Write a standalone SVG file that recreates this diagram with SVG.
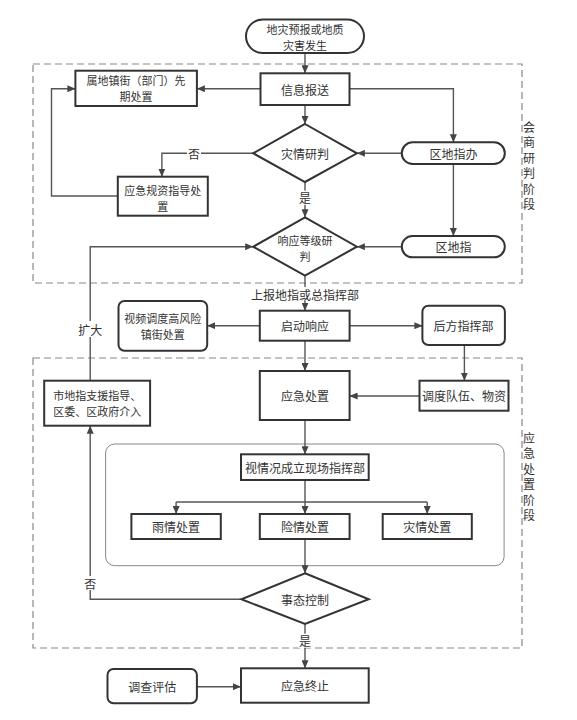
<svg xmlns="http://www.w3.org/2000/svg" width="577" height="720" viewBox="0 0 577 720">
<defs>
<marker id="arr" markerUnits="userSpaceOnUse" markerWidth="8" markerHeight="7" refX="8" refY="3.5" orient="auto">
<path d="M0,0 L8,3.5 L0,7 z" fill="#444"/>
</marker>
<style>
text{font-family:"Noto Sans CJK SC","Noto Sans",sans-serif;font-size:12px;fill:#333;text-anchor:middle;dominant-baseline:central}
text.m{font-size:11px}
.n{fill:#fff;stroke:#333;stroke-width:2}
.c{fill:none;stroke:#555;stroke-width:1.4}
.a{marker-end:url(#arr)}
.dash{fill:none;stroke:#888;stroke-width:1.2;stroke-dasharray:7,4}
.lb{fill:#fff;stroke:none}
</style>
</defs>
<rect width="577" height="720" fill="#fff"/>
<g id="stages">
<rect class="dash" x="33" y="64" width="489" height="219"/>
<rect class="dash" x="33" y="358" width="489" height="290"/>
<rect x="105.6" y="444" width="398.5" height="121.7" rx="9" fill="none" stroke="#888" stroke-width="1"/>
<text x="529" y="126">会</text><text x="529" y="141.5">商</text><text x="529" y="157">研</text><text x="529" y="172.5">判</text><text x="529" y="188">阶</text><text x="529" y="203.5">段</text>
<text x="529" y="437">应</text><text x="529" y="452.5">急</text><text x="529" y="468">处</text><text x="529" y="483.5">置</text><text x="529" y="499">阶</text><text x="529" y="514.5">段</text>
</g>
<g id="connectors">
<path class="c a" d="M305,52.7 V73.3"/>
<path class="c a" d="M260.5,88.7 H196.9"/>
<path class="c a" d="M349.6,88.7 H453.4 V142.3"/>
<path class="c a" d="M305,105 V124"/>
<path class="c a" d="M401.8,153.3 H356.9"/>
<path class="c a" d="M253.2,153.3 H161.9 V176.7"/>
<path class="c a" d="M117.8,196 H51.5 V88.7 H75.4"/>
<path class="c a" d="M305,182 V217.3"/>
<path class="c a" d="M453.4,164 V236"/>
<path class="c a" d="M401.8,246.7 H356.9"/>
<path class="c a" d="M90.2,380.7 V246.7 H253.2"/>
<path class="c a" d="M305,275.7 V310.7"/>
<path class="c a" d="M259.8,325.7 H207.2"/>
<path class="c a" d="M349.6,325.7 H422.4"/>
<path class="c a" d="M305,340.7 V371"/>
<path class="c a" d="M464.4,345 V380.7"/>
<path class="c a" d="M419.5,396 H349.6"/>
<path class="c a" d="M305,420 V454.3"/>
<path class="c a" d="M305,480 V514"/>
<path class="c" d="M176.1,502 H427.2"/>
<path class="c a" d="M176.1,502 V514"/>
<path class="c a" d="M427.2,502 V514"/>
<path class="c a" d="M305,539 V573.3"/>
<path class="c a" d="M241.4,599.3 H90.2 V425.7"/>
<path class="c a" d="M305,624 V668.3"/>
<path class="c a" d="M196.9,686.7 H241"/>
<rect class="lb" x="187" y="146" width="14" height="14"/><text x="194" y="153">否</text>
<rect class="lb" x="298" y="190.7" width="14" height="14"/><text x="305" y="197.7">是</text>
<rect class="lb" x="82" y="321" width="17" height="16"/><text x="90.2" y="329">扩大</text>
<rect class="lb" x="252" y="287" width="106" height="14"/><text x="305" y="294">上报地指或总指挥部</text>
<rect class="lb" x="83" y="576" width="14" height="14"/><text x="90.2" y="583.3">否</text>
<rect class="lb" x="298" y="633.7" width="14" height="14"/><text x="305" y="640.7">是</text>
</g>
<g id="start"><rect class="n" x="246" y="19.5" width="118" height="33.5" rx="16.7"/><text class="m" x="305" y="29">地灾预报或地质</text><text class="m" x="305" y="45">灾害发生</text></g>
<g id="xinxi"><rect class="n" x="260.5" y="73.3" width="89" height="31.7"/><text x="305" y="89">信息报送</text></g>
<g id="shudi"><rect class="n" x="75.4" y="70.7" width="121.5" height="35.3"/><text class="m" x="136" y="80.3">属地镇街（部门）先</text><text class="m" x="136" y="96.3">期处置</text></g>
<g id="zaiqing"><path class="n" d="M305,124 L356.9,153.3 L305,182 L253.2,153.3 Z"/><text x="305" y="153.3">灾情研判</text></g>
<g id="qudizhiban"><rect class="n" x="401.8" y="142.3" width="103" height="21.7" rx="10.8"/><text x="453.4" y="153.3">区地指办</text></g>
<g id="yingjiguizi"><rect class="n" x="117.8" y="176.7" width="90" height="39"/><text class="m" x="162.8" y="189.5">应急规资指导处</text><text class="m" x="162.8" y="205.5">置</text></g>
<g id="xiangying"><path class="n" d="M305,217.3 L356.9,246.7 L305,275.7 L253.2,246.7 Z"/><text class="m" x="305" y="239.5">响应等级研</text><text class="m" x="305" y="255.5">判</text></g>
<g id="qudizhi"><rect class="n" x="401.8" y="236" width="103" height="21.3" rx="10.6"/><text x="453.4" y="246.7">区地指</text></g>
<g id="qidong"><rect class="n" x="259.8" y="310.7" width="89.8" height="30"/><text x="305" y="325.7">启动响应</text></g>
<g id="shipin"><rect class="n" x="118.5" y="301" width="88.7" height="49.7" rx="6"/><text class="m" x="162.8" y="318">视频调度高风险</text><text class="m" x="162.8" y="334">镇街处置</text></g>
<g id="houfang"><rect class="n" x="422.4" y="305.7" width="82.5" height="39.3" rx="6"/><text x="463.6" y="325.4">后方指挥部</text></g>
<g id="yingjichuzhi"><rect class="n" x="259.8" y="371" width="89.8" height="49"/><text x="305" y="395.5">应急处置</text></g>
<g id="diaodu"><rect class="n" x="419.5" y="380.7" width="89" height="30"/><text x="464" y="395.7">调度队伍、物资</text></g>
<g id="shidizhi"><rect class="n" x="44.2" y="380.7" width="105.9" height="45"/><text class="m" x="97.2" y="395.2">市地指支援指导、</text><text class="m" x="97.2" y="411.2">区委、区政府介入</text></g>
<g id="xianchang"><rect class="n" x="241" y="454.3" width="127.7" height="25.7"/><text x="305" y="467.2">视情况成立现场指挥部</text></g>
<g id="yuqing"><rect class="n" x="131.4" y="514" width="89.4" height="25"/><text x="176.1" y="526.5">雨情处置</text></g>
<g id="xianqing"><rect class="n" x="259.8" y="514" width="89.8" height="25"/><text x="305" y="526.5">险情处置</text></g>
<g id="zaiqingcz"><rect class="n" x="382.7" y="514" width="89.1" height="25"/><text x="427.2" y="526.5">灾情处置</text></g>
<g id="shitai"><path class="n" d="M305,573.3 L368.7,599.3 L305,624 L241.4,599.3 Z"/><text x="305" y="599.3">事态控制</text></g>
<g id="zhongzhi"><rect class="n" x="241" y="668.3" width="127.7" height="34.4"/><text x="305" y="685.5">应急终止</text></g>
<g id="diaocha"><rect class="n" x="107.5" y="669" width="89.4" height="34.3" rx="6"/><text x="152.2" y="686.2">调查评估</text></g>
</svg>
